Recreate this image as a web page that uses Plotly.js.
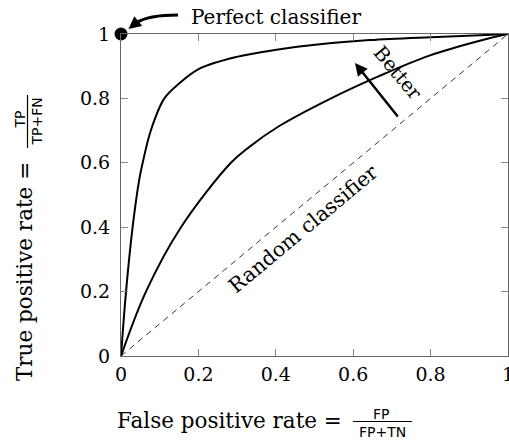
<!DOCTYPE html>
<html>
<head>
<meta charset="utf-8">
<script src="https://cdn.plot.ly/plotly-3.0.1.min.js"></script>
<style>html,body{margin:0;padding:0;background:#fff;}#chart{width:509px;height:441px;}</style>
</head>
<body>
<div id="chart"></div>
<script>
// ROC curves
const fprGood = [0, 0.013, 0.030, 0.047, 0.056, 0.0775, 0.112, 0.151, 0.204, 0.299, 0.402, 0.514, 0.643, 0.80, 0.927, 1];
const tprGood = [0, 0.20, 0.40, 0.547, 0.60, 0.702, 0.80, 0.847, 0.893, 0.929, 0.951, 0.968, 0.981, 0.99, 0.996, 1];
const fprFair = [0, 0.0645, 0.155, 0.284, 0.33, 0.41, 0.539, 0.668, 0.797, 0.927, 1];
const tprFair = [0, 0.20, 0.40, 0.60, 0.648, 0.715, 0.798, 0.87, 0.933, 0.979, 1];
const fprRandom = [0, 1];
const tprRandom = [0, 1];
const fprPerfect = [0];
const tprPerfect = [1];
const tickVals = [0, 0.2, 0.4, 0.6, 0.8, 1];
const tickText = ['0', '0.2', '0.4', '0.6', '0.8', '1'];

const serif = 'DejaVu Serif, serif';
const sans = 'DejaVu Sans, sans-serif';

const traces = [
  {x: fprRandom, y: tprRandom, mode: 'lines', line: {color: '#000', width: 0.8, dash: '6px,5px'}, hoverinfo: 'skip'},
  {x: fprGood, y: tprGood, mode: 'lines', line: {color: '#000', width: 2, shape: 'spline', smoothing: 1}},
  {x: fprFair, y: tprFair, mode: 'lines', line: {color: '#000', width: 2, shape: 'spline', smoothing: 1}},
  {x: fprPerfect, y: tprPerfect, mode: 'markers', marker: {color: '#000', size: 13}, cliponaxis: false}
];

const axisBase = {
  range: [0, 1], showgrid: false, zeroline: false, showline: true,
  linecolor: '#666', linewidth: 1, mirror: 'ticks',
  ticks: 'inside', ticklen: 7, tickwidth: 1, tickcolor: '#888',
  tickvals: tickVals, ticktext: tickText,
  tickfont: {family: serif, size: 19, color: '#000'},
  ticklabeloverflow: 'allow'
};

const P = (px) => (px - 121) / 387;
const Q = (py) => (356 - py) / 322;

const txt = (text, x, y, size, family, angle) => ({
  text: text, xref: 'paper', yref: 'paper', x: x, y: y,
  xanchor: 'center', yanchor: 'middle', showarrow: false,
  textangle: angle || 0, font: {family: family, size: size, color: '#000'}
});

const layout = {
  width: 509, height: 441,
  margin: {l: 121, r: 1, t: 34, b: 85},
  paper_bgcolor: '#fff', plot_bgcolor: '#fff',
  showlegend: false,
  xaxis: Object.assign({}, axisBase, {ticklabelstandoff: 1}),
  yaxis: Object.assign({}, axisBase, {ticklabelstandoff: 6}),
  shapes: [
    // curved shaft of "Perfect classifier" arrow
    {type: 'path', xref: 'paper', yref: 'paper',
     path: `M ${P(178)},${Q(15)} Q ${P(148)},${Q(15)} ${P(136)},${Q(23)}`,
     line: {color: '#000', width: 3}},
    // fraction bars
    {type: 'path', xref: 'paper', yref: 'paper', path: `M ${P(353)},${Q(421.5)} L ${P(412)},${Q(421.5)}`, line: {color: '#000', width: 1.2}},
    {type: 'path', xref: 'paper', yref: 'paper', path: `M ${P(27.5)},${Q(148)} L ${P(27.5)},${Q(95)}`, line: {color: '#000', width: 1.2}}
  ],
  annotations: [
    txt('Perfect classifier', P(276), Q(17), 20, serif),
    {xref: 'paper', yref: 'paper', x: P(128.5), y: Q(29), ax: 10, ay: -8, text: '',
     showarrow: true, arrowhead: 2, arrowsize: 1, arrowwidth: 2.5, arrowcolor: '#000', standoff: 0},
    txt('Better', P(397), Q(73), 19.5, serif, 50),
    {xref: 'paper', yref: 'paper', x: P(355), y: Q(63), ax: 44, ay: 55, text: '',
     showarrow: true, arrowhead: 2, arrowsize: 1, arrowwidth: 2.5, arrowcolor: '#000', standoff: 0},
    txt('Random classifier', P(303), Q(229), 20.5, serif, -39.8),
    // x title
    txt('False positive rate =', P(229.5), Q(420), 21.5, serif),
    txt('FP', P(381), Q(413.5), 14, sans),
    txt('FP+TN', P(382.5), Q(431.5), 14, sans),
    // y title
    txt('True positive rate =', P(24), Q(271), 21.5, serif, -90),
    txt('TP', P(19.5), Q(120), 14, sans, -90),
    txt('TP+FN', P(36), Q(121.5), 14, sans, -90)
  ]
};

Plotly.newPlot('chart', traces, layout, {displayModeBar: false, staticPlot: true});
</script>
</body>
</html>
